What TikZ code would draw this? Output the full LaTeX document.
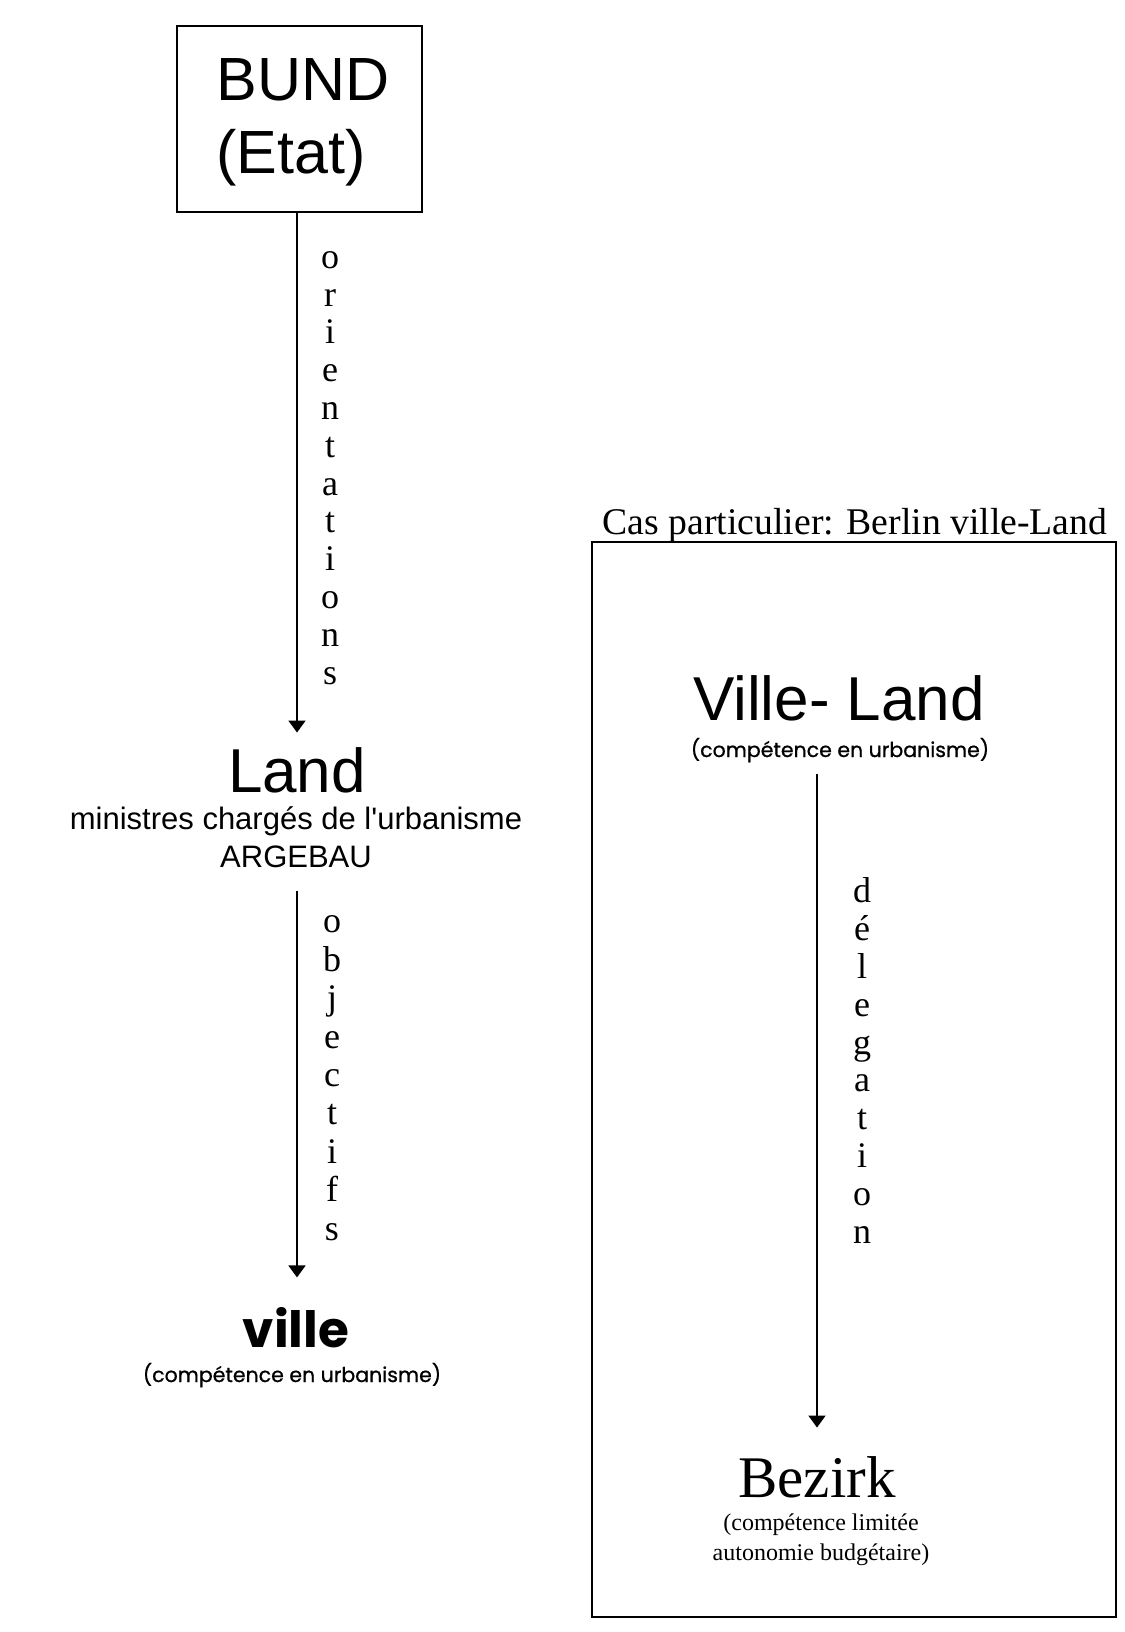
\documentclass[tikz,border=0pt]{standalone}
\usepackage{fontspec}
\setmainfont{Liberation Serif}
\setsansfont{Liberation Sans}
\newfontfamily\geofont{Poppins}
\newfontfamily\geomedium{Poppins}[FakeBold=0.8]
\usetikzlibrary{arrows.meta, positioning}

\begin{document}
\begin{tikzpicture}[x=1pt, y=-1pt,   % define the styles here
    frame/.style={
        draw,
        line width=1.5pt,
        inner sep=0pt
    },
    flow/.style={-{Triangle[width=17pt, length=12pt]}, line width=1.8pt},
    letters/.style={
        align=center,
        anchor=base,
        inner sep=0pt,
        font=\fontsize{36}{38.2}\selectfont
    },
    bigsans/.style={anchor=base, font=\sffamily\fontsize{62}{72}\selectfont},
    smallsans/.style={anchor=base, align=center, font=\sffamily\fontsize{31}{38}\selectfont},
    geosub/.style={anchor=base, font=\geomedium\fontsize{20.5}{28}\selectfont}
]
    \useasboundingbox (0,0) rectangle (1124,1632);

    % 1. BUND, Land and ville
    \node [frame, minimum width=245pt, minimum height=186pt] (bund) at (299.5,119) {};
    \node [align=left, anchor=base west, font=\sffamily\fontsize{61}{73}\selectfont] (bundtext) at (213,174) {BUND\\(Etat)};

    \node [bigsans] (land) at (297,792) {Land};
    \node [smallsans] (landsub) at (296,867) {ministres chargés de l\textquotesingle urbanisme\\ARGEBAU};

    \node [anchor=base, font=\geofont\bfseries\fontsize{50}{60}\selectfont] (ville) at (296,1347) {ville};
    \node [geosub] (villesub) at (292,1382) {(compétence en urbanisme)};

    % The connections
    \draw [flow, shorten >=11pt] (land.north |- bund.south) -- (land.north);
    \draw [flow, shorten <=20pt, shorten >=26pt] (landsub.south -| land.north) -- (ville.north -| land.north);

    \node [letters, font=\fontsize{36}{37.8}\selectfont] (orient) at (330,684) {o\\r\\i\\e\\n\\t\\a\\t\\i\\o\\n\\s};
    \node [letters, font=\fontsize{36}{38.4}\selectfont] (object) at (332,1240) {o\\b\\j\\e\\c\\t\\i\\f\\s};

    % 2. The Berlin case
    \node [frame, minimum width=524pt, minimum height=1075pt] (berlin) at (854,1079.5) {};
    \node [anchor=base, font=\fontsize{37.7}{40}\selectfont] (cas) at (855,534) {Cas particulier: Berlin ville-Land};

    \node [bigsans] (villeland) at (839,720) {Ville- Land};
    \node [geosub] (villelandsub) at (840,757) {(compétence en urbanisme)};

    \node [anchor=base, font=\fontsize{59}{60}\selectfont] (bezirk) at (817,1497) {Bezirk};
    \node [anchor=base, align=center, font=\fontsize{24}{30}\selectfont] (bezirksub) at (821,1560) {(compétence limitée\\autonomie budgétaire)};

    \draw [flow, shorten <=8pt, shorten >=25pt] (villelandsub.south -| bezirk.north) -- (bezirk.north);
    \node [letters, font=\fontsize{36}{37.8}\selectfont] (deleg) at (862,1243) {d\\é\\l\\e\\g\\a\\t\\i\\o\\n};

\end{tikzpicture}
\end{document}
